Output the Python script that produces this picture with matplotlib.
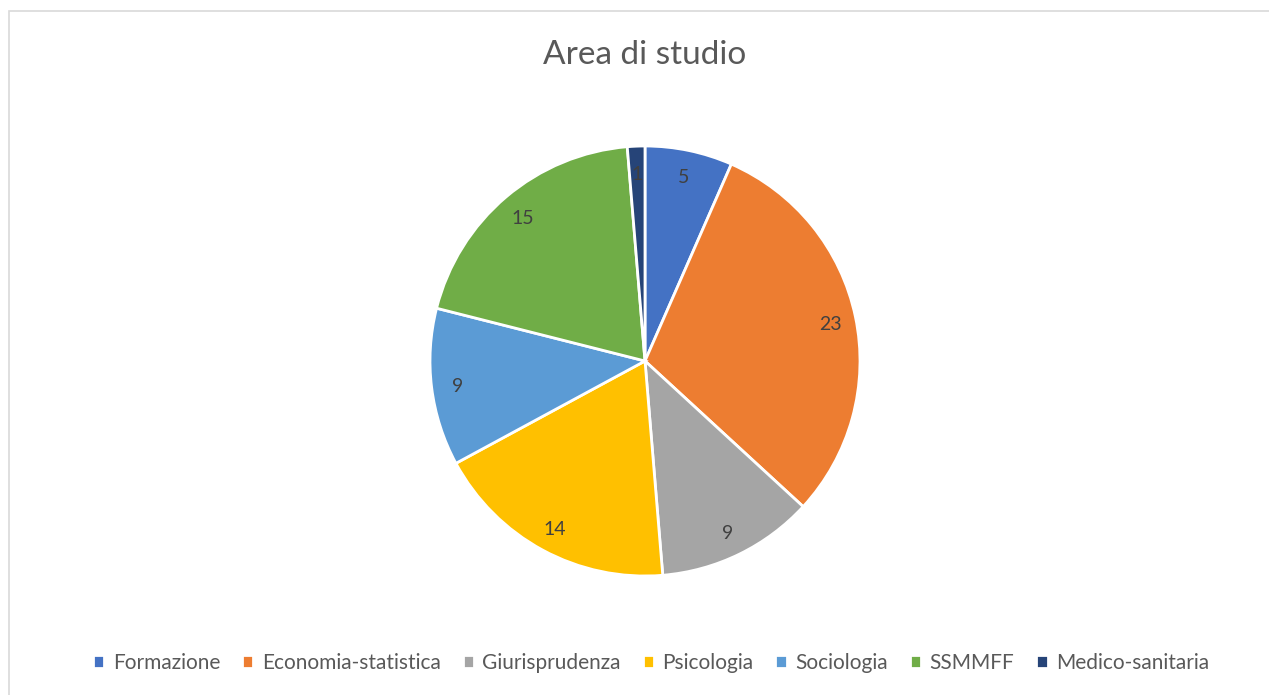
import matplotlib
matplotlib.use("Agg")
import matplotlib.pyplot as plt
from matplotlib.patches import Rectangle
import numpy as np

categories = ["Formazione", "Economia-statistica", "Giurisprudenza", "Psicologia",
              "Sociologia", "SSMMFF", "Medico-sanitaria"]
values = [5, 23, 9, 14, 9, 15, 1]
colors = ["#4472C4", "#ED7D31", "#A5A5A5", "#FFC000", "#5B9BD5", "#70AD47", "#264478"]
title = "Area di studio"

plt.rcParams['font.family'] = ['Lato', 'DejaVu Sans']

fig = plt.figure(figsize=(12.69, 6.95), dpi=100)
fig.patches.append(Rectangle((8.5/1269, -0.1), 1.2, 1 - 10.5/695 + 0.1, transform=fig.transFigure,
                             fill=False, edgecolor="#D9D9D9", linewidth=1.2))

# pie centre (645,361) px, radius 215 px
cx, cy, r = 645, 361, 215
ax = fig.add_axes([(cx - r) / 1269, 1 - (cy + r) / 695, 2 * r / 1269, 2 * r / 695])
wedges, texts = ax.pie(values, colors=colors, startangle=90, counterclock=False,
                       wedgeprops=dict(edgecolor="white", linewidth=2), radius=1.0)
ax.set_xlim(-1.0, 1.0)
ax.set_ylim(-1.0, 1.0)
ax.set_aspect("equal")

total = sum(values)
ang = 90.0
for v in values:
    mid = ang - v / total * 360 / 2
    ang -= v / total * 360
    d = 0.88
    ax.text(d * np.cos(np.radians(mid)), d * np.sin(np.radians(mid)) - 0.01, str(v),
            ha="center", va="center", fontsize=14, color="#404040")

fig.text(645 / 1269, 1 - 55 / 695, title, ha="center", va="center", fontsize=24, color="#595959")

leg = fig.legend(wedges, categories, loc="center", bbox_to_anchor=(651 / 1269, 1 - 663 / 695),
                 ncol=7, frameon=False, fontsize=15, handlelength=0.55, handleheight=0.55,
                 handletextpad=0.4, columnspacing=1.05, labelcolor="#595959")

fig.savefig("out.png", dpi=100, facecolor="white")
